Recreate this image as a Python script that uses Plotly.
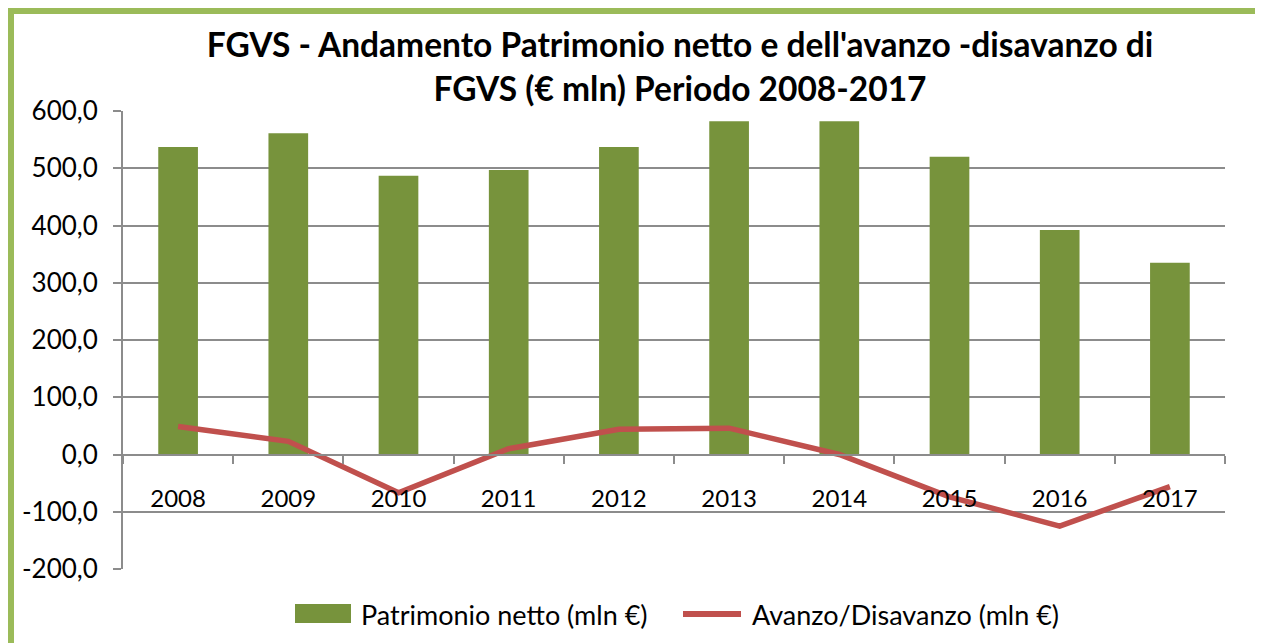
import plotly.graph_objects as go

years = ["2008", "2009", "2010", "2011", "2012", "2013", "2014", "2015", "2016", "2017"]
patrimonio = [537, 561, 487, 497, 537, 582, 582, 520, 392, 335]
avanzo = [49, 23, -67, 10, 44, 46, 0, -74, -125, -56]
y_ticks = [-200, -100, 0, 100, 200, 300, 400, 500, 600]
y_tick_labels = ["-200,0", "-100,0", "0,0", "100,0", "200,0", "300,0", "400,0", "500,0", "600,0"]

title_text = ("FGVS - Andamento Patrimonio netto e dell'avanzo -disavanzo di<br>"
              "FGVS (€ mln) Periodo 2008-2017")
name_bar = "Patrimonio netto (mln €)"
name_line = "Avanzo/Disavanzo (mln €)"

W, H = 1263, 643
OFF = 8  # page body margin
FW, FH = W - OFF, H - OFF
L, R, T, B = 123, 1225, 111, 569
PW, PH = R - L, B - T


def px(x):
    return (x - L) / PW


def py(y):
    return (B - y) / PH


FONT = "Lato"
GREEN = "#77933C"
RED = "#C0504D"
GRID = "#8C8C8C"
BORDER = "#9BBB59"

fig = go.Figure()
fig.add_trace(go.Bar(x=years, y=patrimonio, name=name_bar, marker_color=GREEN,
                     marker_line_width=0, width=0.36))
fig.add_trace(go.Scatter(x=years, y=avanzo, name=name_line, mode="lines",
                         line=dict(color=RED, width=5.5)))

shapes = [
    # green frame (top + left)
    dict(type="rect", xref="paper", yref="paper", x0=px(8), x1=px(W + 20), y0=py(8), y1=py(14),
         fillcolor=BORDER, line_width=0, layer="above"),
    dict(type="rect", xref="paper", yref="paper", x0=px(8), x1=px(14), y0=py(8), y1=py(H + 20),
         fillcolor=BORDER, line_width=0, layer="above"),
    # legend symbols
    dict(type="rect", xref="paper", yref="paper", x0=px(295), x1=px(351), y0=py(604), y1=py(623),
         fillcolor=GREEN, line_width=0),
    dict(type="line", xref="paper", yref="paper", x0=px(683), x1=px(741), y0=py(614), y1=py(614),
         line=dict(color=RED, width=6)),
]

annotations = [
    dict(text=name_bar, xref="paper", yref="paper", x=px(359), y=py(614), xanchor="left",
         yanchor="middle", showarrow=False, font=dict(family=FONT, size=27, color="black")),
    dict(text=name_line, xref="paper", yref="paper", x=px(750), y=py(614), xanchor="left",
         yanchor="middle", showarrow=False, font=dict(family=FONT, size=27, color="black")),
]

fig.update_layout(
    width=FW, height=FH,
    margin=dict(l=L - OFF, r=W - R, t=T - OFF, b=H - B),
    paper_bgcolor="white", plot_bgcolor="white",
    separators=",.",
    showlegend=False,
    bargap=0.64,
    title=dict(text=title_text, x=(680 - OFF) / FW, xanchor="center",
               y=1 - (57 - OFF) / FH, yanchor="middle",
               font=dict(family=FONT, size=33.5, color="black", weight="bold")),
    font=dict(family=FONT, size=24, color="black"),
    xaxis=dict(type="category", anchor="free", position=0.25, showgrid=False,
               showline=True, linecolor=GRID, linewidth=2,
               ticks="outside", tickson="boundaries", ticklen=8, tickcolor=GRID, tickwidth=2,
               ticklabelstandoff=23, tickfont=dict(family=FONT, size=24, color="black")),
    yaxis=dict(range=[-200, 600], tickvals=y_ticks, ticktext=y_tick_labels,
               showgrid=True, gridcolor=GRID, gridwidth=2, zeroline=False,
               showline=True, linecolor=GRID, linewidth=2,
               ticks="outside", ticklen=8, tickcolor=GRID, tickwidth=2,
               ticklabelstandoff=10, tickfont=dict(family=FONT, size=26, color="black")),
    shapes=shapes,
    annotations=annotations,
)

fig.write_html("out.html")
